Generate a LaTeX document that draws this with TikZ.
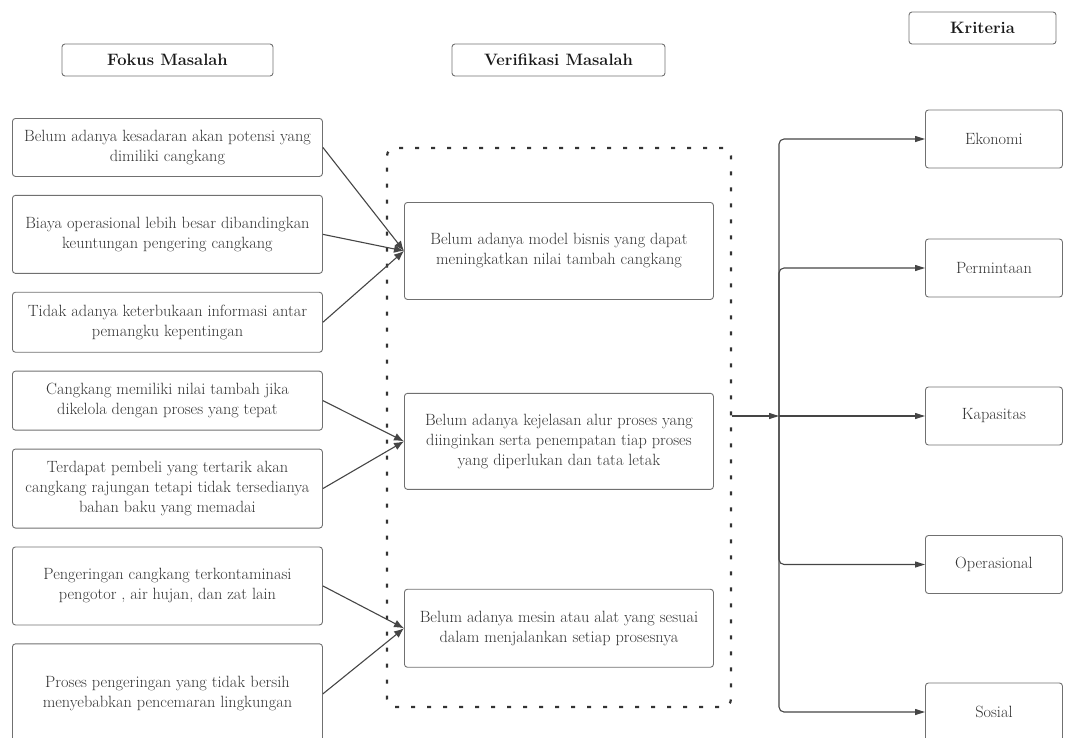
\documentclass[tikz,border=0pt]{standalone}
\usepackage{tikz}
\usetikzlibrary{arrows.meta, positioning}
\definecolor{teks}{HTML}{333333}
\definecolor{garis}{HTML}{707070}
\definecolor{panah}{HTML}{454545}

\begin{document}
\begin{tikzpicture}[
    x=1pt, y=-1pt,
    judul/.style={draw=garis, line width=0.9pt, rounded corners=3pt, minimum height=32pt,
                  font=\fontsize{16.5}{19}\selectfont\bfseries, text=black!90},
    fokus/.style={draw=garis, line width=0.9pt, rounded corners=3pt, minimum width=310pt,
                  align=center, inner sep=0pt, text=teks, font=\fontsize{16.3}{20}\selectfont},
    verif/.style={fokus, minimum width=309pt},
    krit/.style={fokus, minimum width=137pt, minimum height=58pt},
    wadah/.style={draw=black!80, line width=2.2pt, dash pattern=on 4pt off 12pt,
                  rounded corners=8pt, minimum width=344pt, minimum height=559pt},
    arr/.style={-{Latex[length=10pt, width=8pt]}, draw=panah, line width=1.1pt},
    cab/.style={-{Triangle[length=10pt, width=6pt]}, draw=panah, line width=1.1pt,
                rounded corners=5pt},
    node distance=18pt
]
    \useasboundingbox (0,0) rectangle (1065,737);
    \clip (0,0) rectangle (1065,737);

    % judul kolom
    \node[judul, minimum width=211pt] (hfokus) at (167.5,60) {Fokus Masalah};
    \node[judul, minimum width=213pt] (hverif) at (558.5,60) {Verifikasi Masalah};
    \node[judul, minimum width=147pt] (hkrit)  at (982.5,28) {Kriteria};

    % fokus masalah
    \node[fokus, minimum height=58pt, anchor=north west] (f1) at (12,118)
        {Belum adanya kesadaran akan potensi yang\\dimiliki cangkang};
    \node[fokus, minimum height=78pt, below=of f1] (f2)
        {Biaya operasional lebih besar dibandingkan\\keuntungan pengering cangkang};
    \node[fokus, minimum height=60pt, below=of f2] (f3)
        {Tidak adanya keterbukaan informasi antar\\pemangku kepentingan};
    \node[fokus, minimum height=59pt, below=of f3] (f4)
        {Cangkang memiliki nilai tambah jika\\dikelola dengan proses yang tepat};
    \node[fokus, minimum height=79pt, below=of f4] (f5)
        {Terdapat pembeli yang tertarik akan\\cangkang rajungan tetapi tidak tersedianya\\bahan baku yang memadai};
    \node[fokus, minimum height=78pt, below=of f5] (f6)
        {Pengeringan cangkang terkontaminasi\\pengotor , air hujan, dan zat lain};
    \node[fokus, minimum height=100pt, below=of f6] (f7)
        {Proses pengeringan yang tidak bersih\\menyebabkan pencemaran lingkungan};

    % verifikasi masalah
    \node[wadah] (wadah) at (559,427.5) {};
    \node[verif, minimum height=97pt, anchor=north west] (m1) at (404,202)
        {Belum adanya model bisnis yang dapat\\meningkatkan nilai tambah cangkang};
    \node[verif, minimum height=96pt, below=93pt of m1] (m2)
        {Belum adanya kejelasan alur proses yang\\diinginkan serta penempatan tiap proses\\yang diperlukan dan tata letak};
    \node[verif, minimum height=78pt, below=99pt of m2] (m3)
        {Belum adanya mesin atau alat yang sesuai\\dalam menjalankan setiap prosesnya};

    % kriteria
    \node[krit, anchor=west] (k1) at (925,139) {Ekonomi};
    \node[krit, anchor=west] (k2) at (925,268) {Permintaan};
    \node[krit, anchor=west] (k3) at (925,416) {Kapasitas};
    \node[krit, anchor=west] (k4) at (925,564.5) {Operasional};
    \node[krit, anchor=west] (k5) at (925,712) {Sosial};
    \coordinate (cabang) at (779,416);

    \foreach \a/\b in {f1/m1, f2/m1, f3/m1, f4/m2, f5/m2, f6/m3, f7/m3}
        \draw[arr] (\a.east) -- (\b.west);

    \draw[cab] (wadah.east |- cabang) -- (cabang);
    \draw[cab] (cabang) |- (k1);
    \draw[cab] (cabang) |- (k2);
    \draw[cab] (cabang) -- (k3);
    \draw[cab] (cabang) |- (k4);
    \draw[cab] (cabang) |- (k5);
\end{tikzpicture}
\end{document}
